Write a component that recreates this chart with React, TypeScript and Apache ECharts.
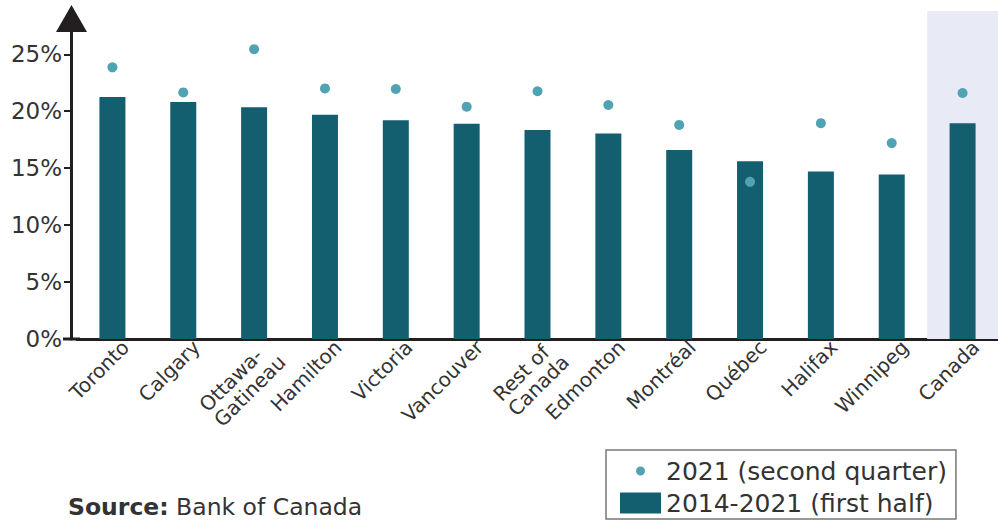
import React, { useEffect, useRef } from "react";
import * as echarts from "echarts";

const categories = [
  "Toronto", "Calgary", "Ottawa-\nGatineau", "Hamilton", "Victoria", "Vancouver",
  "Rest of\nCanada", "Edmonton", "Montréal", "Québec", "Halifax", "Winnipeg", "Canada",
];
const avg2014_2021 = [21.25, 20.8, 20.35, 19.7, 19.2, 18.9, 18.35, 18.05, 16.6, 15.6, 14.7, 14.45, 18.95];
const q2_2021 = [23.85, 21.65, 25.45, 22.0, 21.95, 20.4, 21.75, 20.55, 18.8, 13.8, 18.95, 17.2, 21.6];
const yTicks = [0, 5, 10, 15, 20, 25];
const highlighted = ["Canada"];
const Y_MAX = 28.8;

const FONT = "'DejaVu Sans', 'Noto Sans', sans-serif";
const INK = "#231f20";
const TXT = "#333333";

export default function App() {
  const ref = useRef<HTMLDivElement>(null);
  useEffect(() => {
    if (!ref.current) return;
    const chart = echarts.init(ref.current, undefined, { renderer: "svg" });
    chart.setOption({
      animation: false,
      textStyle: { fontFamily: FONT },
      grid: { left: 77, top: 11, width: 925, height: 328 },
      legend: {
        left: 606,
        top: 450,
        height: 100,
        orient: "vertical",
        padding: [8, 9, 3, 14],
        itemGap: 6,
        itemWidth: 41,
        itemHeight: 21,
        borderColor: "#777777",
        borderWidth: 1.5,
        textStyle: { fontSize: 25, lineHeight: 26, color: TXT, fontFamily: FONT },
        data: [
          {
            name: "2021 (second quarter)",
            icon: "path://M0,0M41,21M16,10.5a4.5,4.5 0 1,0 9,0a4.5,4.5 0 1,0 -9,0z",
          },
          { name: "2014-2021 (first half)", icon: "rect" },
        ],
      },
      xAxis: [
        {
          type: "category",
          data: categories,
          boundaryGap: true,
          axisLine: { lineStyle: { color: INK, width: 3 } },
          axisTick: { show: false },
          axisLabel: {
            interval: 0,
            rotate: 45,
            fontSize: 20,
            lineHeight: 21,
            color: TXT,
            margin: 3,
            padding: [0, -8, 0, 0],
            verticalAlign: "top",
            fontFamily: FONT,
            formatter: (v: string) =>
              v.split("\n").map((line) => `{l|${line}}`).join("\n"),
            rich: {
              l: { align: "left", fontSize: 20, lineHeight: 21, color: TXT, fontFamily: FONT },
            },
          },
        },
        {
          type: "category",
          data: categories,
          boundaryGap: true,
          show: false,
        },
      ],
      yAxis: {
        type: "value",
        min: 0,
        max: Y_MAX,
        offset: 6,
        splitLine: { show: false },
        axisLine: { show: true, lineStyle: { color: INK, width: 3 } },
        axisTick: {
          show: true,
          length: 7,
          lineStyle: { color: INK, width: 2 },
          customValues: yTicks,
        },
        axisLabel: {
          fontSize: 23,
          color: TXT,
          margin: 9,
          fontFamily: FONT,
          customValues: yTicks,
          formatter: (v: number) => `${v}%`,
        },
      },
      series: [
        {
          name: "highlight",
          type: "bar",
          xAxisIndex: 1,
          barWidth: "100%",
          silent: true,
          z: 0,
          itemStyle: { color: "#e8ebf5" },
          data: categories.map((c) => (highlighted.includes(c) ? Y_MAX : null)),
        },
        {
          name: "2014-2021 (first half)",
          type: "bar",
          barWidth: 26,
          z: 2,
          itemStyle: { color: "#135f70" },
          data: avg2014_2021,
        },
        {
          name: "2021 (second quarter)",
          type: "scatter",
          symbolSize: 10,
          z: 3,
          itemStyle: { color: "#4fa3b2", opacity: 1 },
          data: q2_2021,
        },
      ],
      graphic: [
        {
          type: "polygon",
          shape: { points: [[56, 32], [87, 32], [71.5, 5]] },
          style: { fill: INK },
          z: 10,
        },
        {
          type: "line",
          shape: { x1: 63, y1: 339, x2: 80, y2: 339 },
          style: { stroke: INK, lineWidth: 3 },
          z: 10,
        },
        {
          type: "text",
          x: 68,
          y: 507,
          style: {
            text: "{b|Source:} Bank of Canada",
            fontSize: 23.5,
            lineHeight: 22,
            verticalAlign: "middle",
            fill: TXT,
            fontFamily: FONT,
            rich: {
              b: { fontWeight: "bold", fontSize: 23.5, lineHeight: 22, fill: TXT, fontFamily: FONT },
            },
          },
        },
      ],
    });
    return () => chart.dispose();
  }, []);
  return <div ref={ref} style={{ width: 998, height: 520, position: "absolute", left: 0, top: 0 }} />;
}
